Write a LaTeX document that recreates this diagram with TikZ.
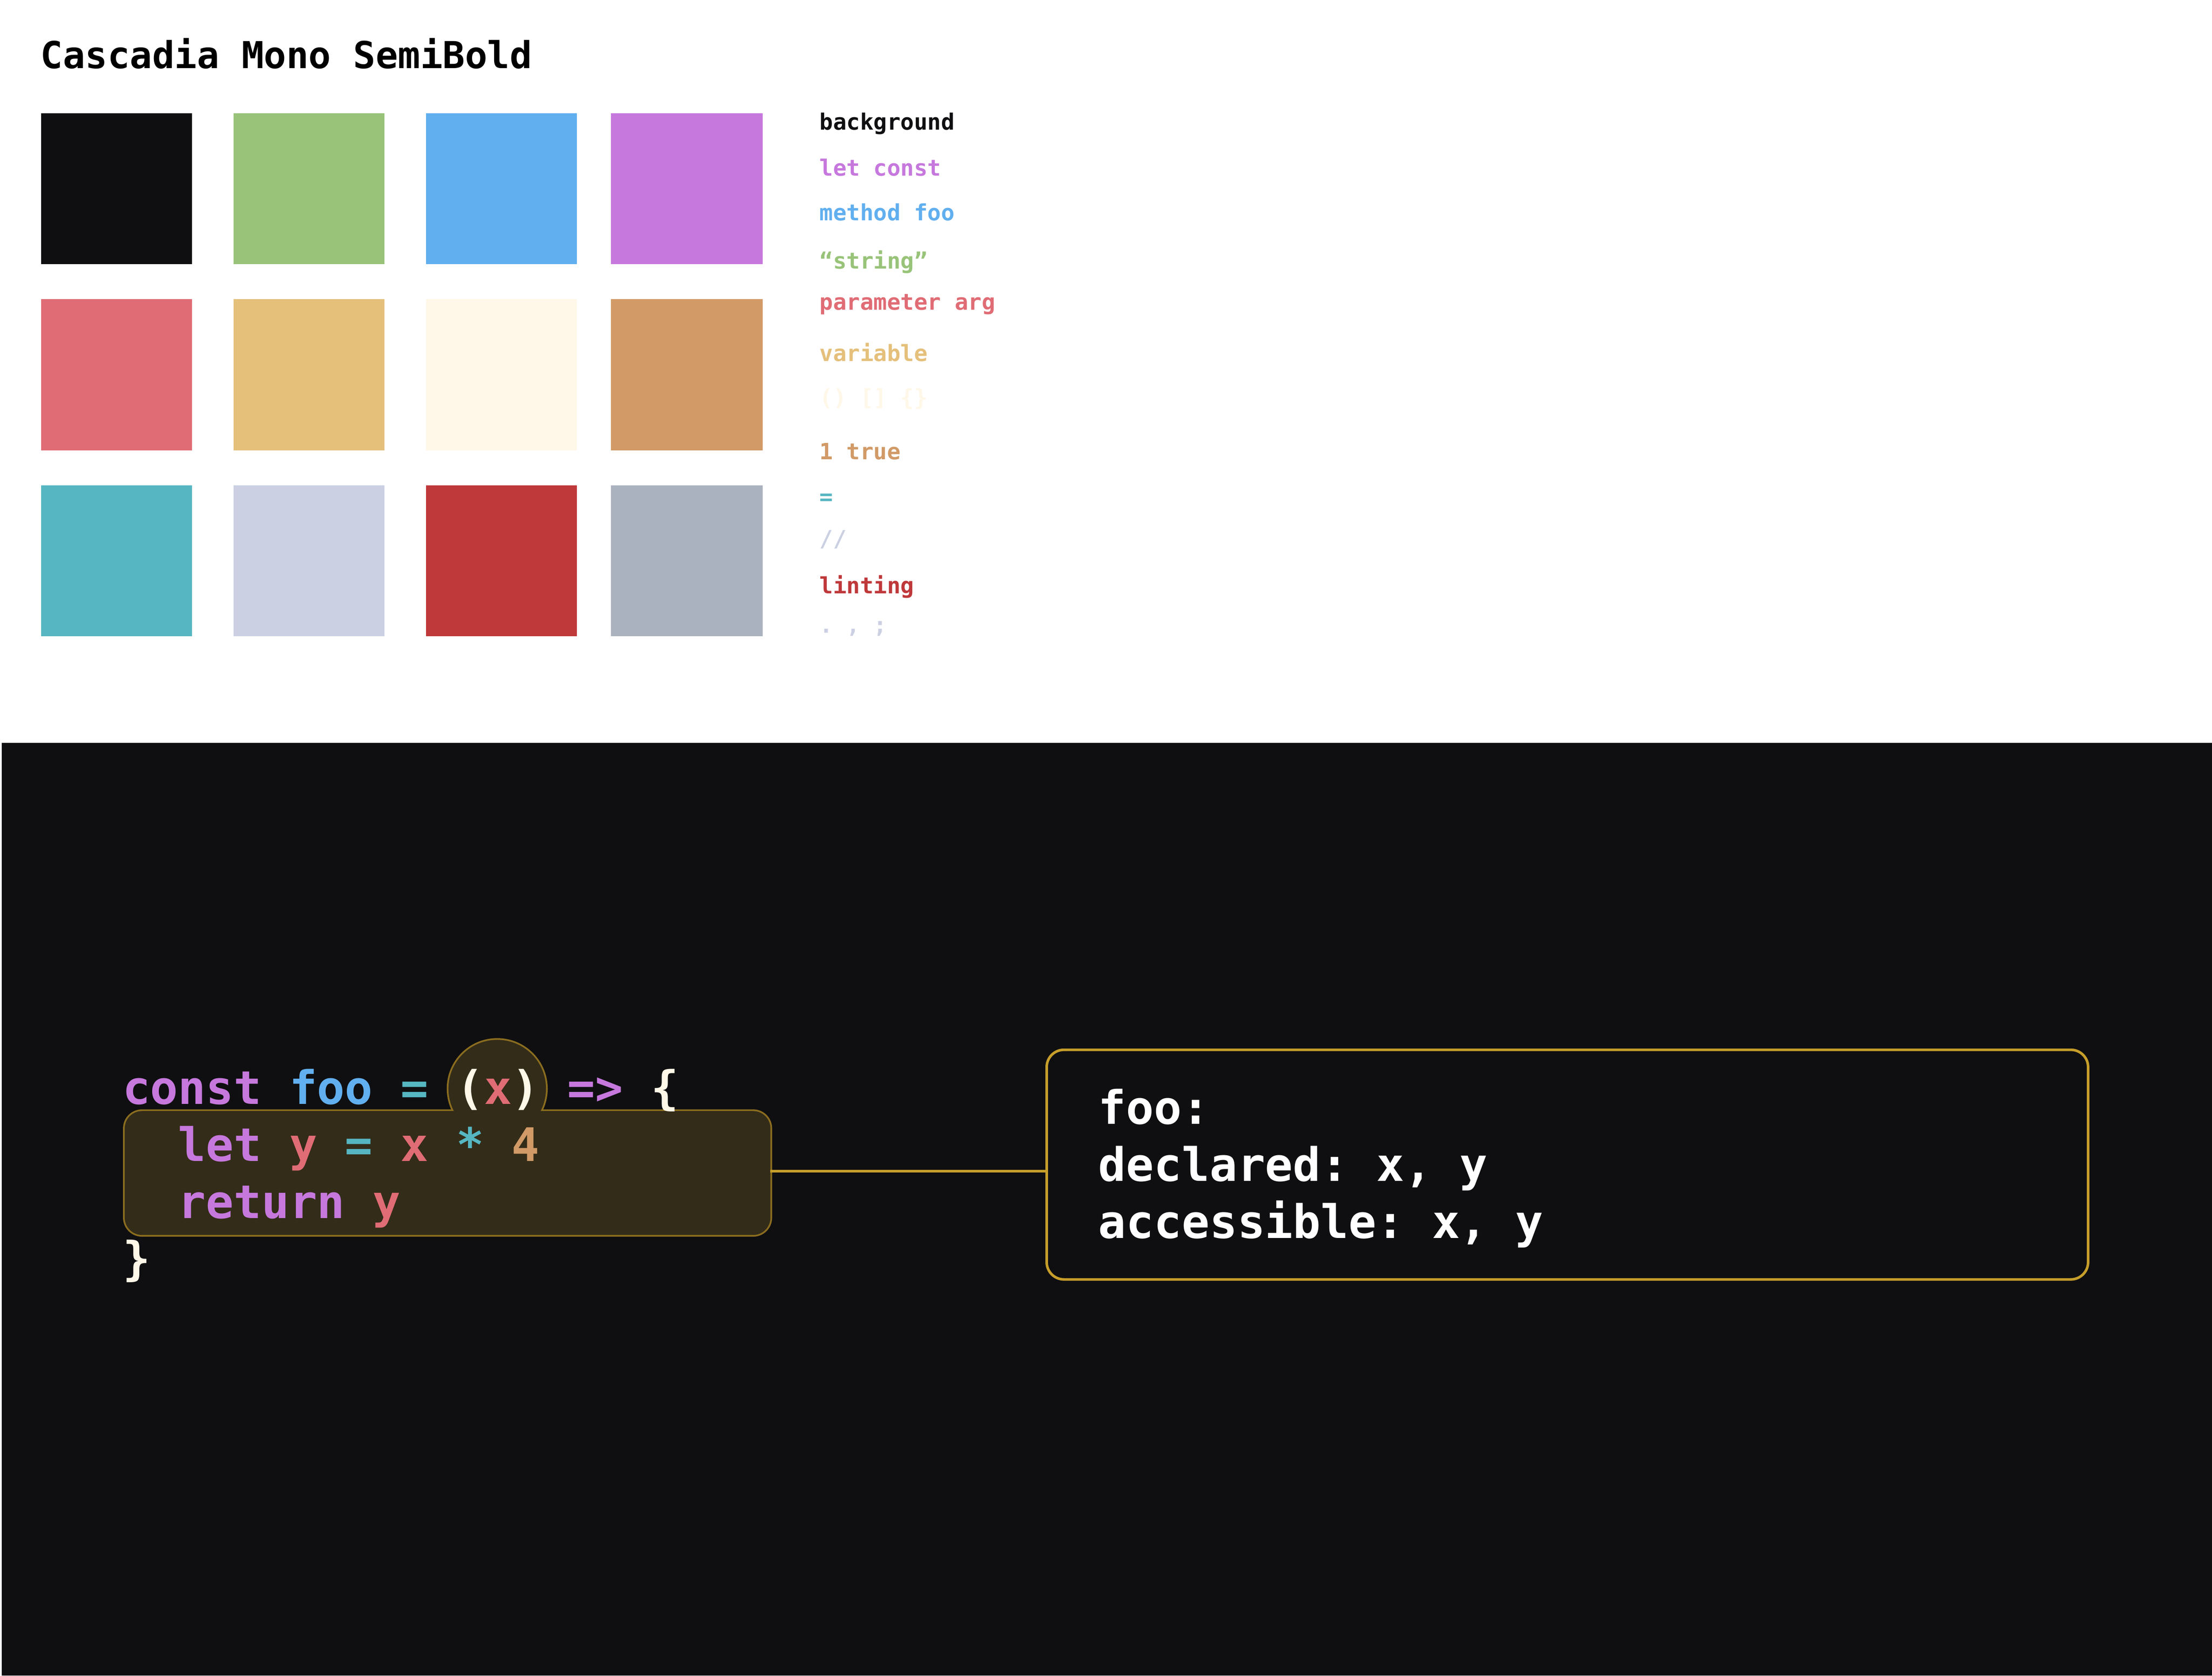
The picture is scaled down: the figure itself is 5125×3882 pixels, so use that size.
\documentclass[tikz,border=0pt]{standalone}
\usepackage{fontspec}
\setmonofont{DejaVu Sans Mono}
\usepackage{tikz}

\definecolor{bgc}{HTML}{0F0F11}
\definecolor{green}{HTML}{98C379}
\definecolor{blue}{HTML}{61AFEF}
\definecolor{purple}{HTML}{C678DD}
\definecolor{red}{HTML}{E06C75}
\definecolor{yellow}{HTML}{E5C07B}
\definecolor{cream}{HTML}{FFF7E8}
\definecolor{orange}{HTML}{D19A66}
\definecolor{cyan}{HTML}{56B6C2}
\definecolor{lavender}{HTML}{CBD0E3}
\definecolor{crimson}{HTML}{BF383A}
\definecolor{gray}{HTML}{ABB2BF}
\definecolor{scopefill}{HTML}{332C19}
\definecolor{scopeline}{HTML}{8B6D1F}
\definecolor{gold}{HTML}{C69E2A}

\newcommand\tk[2]{\textcolor{#1}{#2}}

\begin{document}
\begin{tikzpicture}[x=0.1pt,y=-0.1pt,
	code/.style={anchor=base west,inner sep=0pt,text=cream,font=\ttfamily\bfseries\fontsize{10.7}{12}\selectfont},
	legend/.style={anchor=base west,inner sep=0pt,font=\ttfamily\bfseries\fontsize{5.2}{6}\selectfont},
	infobox/.style={draw=gold,line width=0.6pt,rounded corners=4pt,inner sep=0pt,minimum width=241.3pt,minimum height=53.2pt},
	link/.style={draw=gold,line width=0.6pt}]
	\useasboundingbox (0,0) rectangle (5125,3882);
	\fill[white] (0,0) rectangle (5125,3882);
	\fill[bgc] (4,1721) rectangle (5125,3882);

	\node[anchor=base west,inner sep=0pt,font=\ttfamily\bfseries\fontsize{8.6}{10}\selectfont] (title) at (92,158) {Cascadia Mono SemiBold};
	\foreach \y/\a/\b/\c/\d in {262/bgc/green/blue/purple,693/red/yellow/cream/orange,1124/cyan/lavender/crimson/gray}{
		\fill[\a] (95,\y) rectangle +(350,350);
		\fill[\b] (541,\y) rectangle +(350,350);
		\fill[\c] (987,\y) rectangle +(350,350);
		\fill[\d] (1416,\y) rectangle +(351,350);
	}
	\begin{scope}
		\clip (1850,200) rectangle (2700,1476);
		\foreach \y/\c/\t in {301/bgc/background,407/purple/let const,511/blue/method foo,623/green/“string”,718/red/parameter arg,837/yellow/variable,939/cream/{() [] \{\}},1064/orange/1 true,1169/cyan/=,1266/lavender/{//},1375/crimson/linting,1466/lavender/{. , ;}}{
			\node[legend,text=\c] (key\y) at (1897,\y) {\t};
		}
	\end{scope}

	\node[inner sep=0pt,minimum width=149.2pt,minimum height=28.3pt] (body) at (1037,2717.5) {};
	\node[circle,inner sep=0pt,minimum size=22.6pt] (param) at (1152,2522) {};
	\draw[scopeline,line width=0.8pt,rounded corners=4pt] (body.north west) rectangle (body.south east);
	\draw[scopeline,line width=0.8pt] (param.center) circle[radius=11.3pt];
	\fill[scopefill,rounded corners=4pt] (body.north west) rectangle (body.south east);
	\fill[scopefill] (param.center) circle[radius=11.3pt];

	\node[code] (l1) at (282,2558) {\tk{purple}{const} \tk{blue}{foo} \tk{cyan}{=} (\tk{red}{x}) \tk{purple}{=>} \{};
	\node[code] (l2) at (282,2690) {\ \ \tk{purple}{let} \tk{red}{y} \tk{cyan}{=} \tk{red}{x} \tk{cyan}{*} \tk{orange}{4}};
	\node[code] (l3) at (282,2822) {\ \ \tk{purple}{return} \tk{red}{y}};
	\node[code] (l4) at (282,2954) {\}};

	\node[infobox] (info) at (3631.5,2698) {};
	\draw[link] ([yshift=0.45pt]body.east) -- ([yshift=0.45pt]body.east -| info.west);
	\node[code,text=white] (i1) at (2543,2604) {foo:};
	\node[code,text=white] (i2) at (2543,2736) {declared: x, y};
	\node[code,text=white] (i3) at (2543,2868) {accessible: x, y};
\end{tikzpicture}
\end{document}
